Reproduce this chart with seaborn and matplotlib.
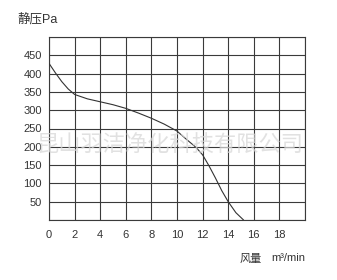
import matplotlib
matplotlib.use("Agg")
import matplotlib.pyplot as plt
import seaborn as sns
import pandas as pd

flow = [0, 0.5, 1, 1.5, 2, 3, 4, 5, 6, 7, 8, 9, 10, 10.75, 11.5, 12, 12.5, 13, 13.5, 14, 14.6, 15.2]
pressure = [428, 402, 378, 358, 343, 331, 323, 315, 305, 292, 278, 262, 243, 220, 198, 178, 148, 115, 80, 50, 20, 0]
x_ticks = [0, 2, 4, 6, 8, 10, 12, 14, 16, 18, 20]
x_labels = ["0", "2", "4", "6", "8", "10", "12", "14", "16", "18", ""]
y_ticks = [0, 50, 100, 150, 200, 250, 300, 350, 400, 450, 500]
y_labels = ["", "50", "100", "150", "200", "250", "300", "350", "400", "450", ""]
title = "静压Pa"
xlabel_cn = "风量"
xlabel_unit = "m³/min"
watermark = "昆山羽洁净化科技有限公司"

sns.set_theme(style="white")
plt.rcParams['font.family'] = ['Liberation Sans', 'Noto Sans CJK SC', 'DejaVu Sans']

df = pd.DataFrame({"flow": flow, "pressure": pressure})

fig = plt.figure(figsize=(3.37, 2.80), dpi=100)
ax = fig.add_axes([49/337, 60/280, 256/337, 183/280])

sns.lineplot(data=df, x="flow", y="pressure", ax=ax, color="#333333", linewidth=0.8, sort=False, zorder=3)

ax.set_xlim(0, 20)
ax.set_ylim(0, 500)
ax.set_xticks(x_ticks)
ax.set_xticklabels(x_labels)
ax.set_yticks(y_ticks)
ax.set_yticklabels(y_labels)
ax.grid(True, color="#3a3a3a", linewidth=0.8)
ax.set_axisbelow(True)
ax.tick_params(axis="both", length=0, labelsize=8, colors="#333333")
ax.tick_params(axis="x", pad=7)
ax.tick_params(axis="y", pad=5)
for s in ax.spines.values():
    s.set_color("#3a3a3a")
    s.set_linewidth(0.8)
ax.set_xlabel("")
ax.set_ylabel("")

fig.text(18/337, 1 - 19/280, title, fontsize=9, color="#333333", va="center", ha="left")
fig.text(262/337, 1 - 259/280, xlabel_cn, fontsize=8, color="#333333", va="center", ha="right")
fig.text(305/337, 1 - 258/280, xlabel_unit, fontsize=8, color="#333333", va="center", ha="right")
fig.text(170/337, 1 - 146/280, watermark, fontsize=16, color="#d8d8d8", alpha=0.75,
         va="center", ha="center", zorder=5)

fig.savefig("out.png", dpi=100)
